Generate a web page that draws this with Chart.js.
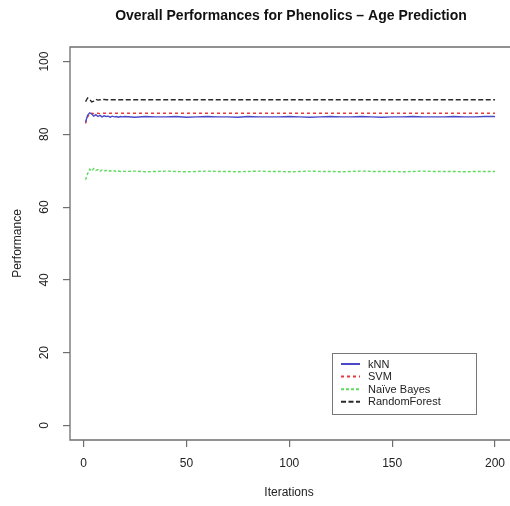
<!DOCTYPE html>
<html lang="en">
<head>
  <meta charset="UTF-8">
  <title>Overall Performances for Phenolics – Age Prediction</title>
  <script src="https://cdn.jsdelivr.net/npm/chart.js"></script>
  <style>
    html, body { margin: 0; padding: 0; background: #fff; }
    #wrap { width: 510px; height: 506px; }
  </style>
</head>
<body>
  <div id="wrap"><canvas id="perfChart" width="510" height="506"></canvas></div>

  <script>
    // values (every iteration up to 20, then every 5)
    const titleText = 'Overall Performances for Phenolics \u2013 Age Prediction';
    const iterations = [1, 2, 3, 4, 5, 6, 7, 8, 9, 10, 11, 12, 13, 14, 15, 16, 17, 18, 19, 20,
      25, 30, 35, 40, 45, 50, 55, 60, 65, 70, 75, 80, 85, 90, 95, 100, 105, 110, 115, 120,
      125, 130, 135, 140, 145, 150, 155, 160, 165, 170, 175, 180, 185, 190, 195, 200];
    const knn = [83.4, 85.2, 85.9, 85.6, 85.0, 85.4, 84.9, 85.2, 84.8, 85.1, 84.9, 85.0, 84.7, 85.0, 84.8, 84.9, 84.7, 84.9, 84.8, 84.9,
      84.7, 84.9, 84.8, 84.8, 84.9, 84.7, 84.8, 84.9, 84.8, 84.8, 84.7, 84.9, 84.8, 84.8, 84.8, 84.9, 84.8, 84.7, 84.8, 84.9,
      84.8, 84.8, 84.9, 84.8, 84.7, 84.8, 84.8, 84.9, 84.8, 84.8, 84.8, 84.9, 84.8, 84.8, 84.9, 84.9];
    const svm = [83.0, 84.8, 85.6, 85.8, 85.7, 85.8, 85.8, 85.7, 85.8, 85.8, 85.8, 85.8, 85.8, 85.8, 85.8, 85.8, 85.8, 85.8, 85.8, 85.8,
      85.8, 85.8, 85.8, 85.8, 85.8, 85.8, 85.8, 85.8, 85.8, 85.8, 85.8, 85.8, 85.8, 85.8, 85.8, 85.8, 85.8, 85.8, 85.8, 85.8,
      85.8, 85.8, 85.8, 85.8, 85.8, 85.8, 85.8, 85.8, 85.8, 85.8, 85.8, 85.8, 85.8, 85.8, 85.8, 85.8];
    const naiveBayes = [67.5, 69.2, 70.4, 69.9, 70.6, 70.1, 70.3, 69.8, 70.2, 69.9, 70.1, 69.8, 70.0, 69.8, 70.0, 69.7, 69.9, 69.8, 69.9, 69.8,
      69.9, 69.7, 69.8, 69.9, 69.8, 69.7, 69.8, 69.9, 69.8, 69.8, 69.7, 69.8, 69.9, 69.8, 69.8, 69.7, 69.8, 69.9, 69.8, 69.8,
      69.7, 69.8, 69.9, 69.8, 69.8, 69.8, 69.7, 69.8, 69.9, 69.8, 69.8, 69.8, 69.7, 69.8, 69.8, 69.8];
    const randomForest = [89.0, 90.0, 89.6, 88.9, 89.1, 89.6, 89.4, 89.5, 89.5, 89.6, 89.5, 89.5, 89.5, 89.5, 89.5, 89.5, 89.5, 89.5, 89.5, 89.5,
      89.5, 89.5, 89.5, 89.5, 89.5, 89.5, 89.5, 89.5, 89.5, 89.5, 89.5, 89.5, 89.5, 89.5, 89.5, 89.5, 89.5, 89.5, 89.5, 89.5,
      89.5, 89.5, 89.5, 89.5, 89.5, 89.5, 89.5, 89.5, 89.5, 89.5, 89.5, 89.5, 89.5, 89.5, 89.5, 89.5];
    const seriesNames = ['kNN', 'SVM', 'Na\u00efve Bayes', 'RandomForest'];
    const xTicks = [0, 50, 100, 150, 200];
    const yTicks = [0, 20, 40, 60, 80, 100];

    const FONT = '"Liberation Sans", Arial, Helvetica, sans-serif';
    const AXIS_GREY = '#6e6e6e';

    function pts(values) {
      return values.map((v, i) => ({ x: iterations[i], y: v }));
    }

    function line(label, values, color, dash) {
      return {
        label: label,
        data: pts(values),
        borderColor: color,
        borderWidth: 1.4,
        borderDash: dash,
        pointRadius: 0,
        tension: 0,
        fill: false
      };
    }

    // R-style box round the plot region (its right side falls off the picture), plus title and legend
    const rDecor = {
      id: 'rDecor',
      afterDraw(chart) {
        const { ctx, chartArea: a, width } = chart;
        ctx.save();
        ctx.strokeStyle = AXIS_GREY;
        ctx.lineWidth = 1.3;
        ctx.beginPath();
        ctx.moveTo(width, a.top);
        ctx.lineTo(a.left, a.top);
        ctx.lineTo(a.left, a.bottom);
        ctx.lineTo(width, a.bottom);
        ctx.stroke();

        ctx.fillStyle = '#111';
        ctx.font = 'bold 14px ' + FONT;
        ctx.textAlign = 'center';
        ctx.textBaseline = 'middle';
        ctx.fillText(titleText, 291, 16);

        // legend
        const bx = 332, by = 353, bw = 144, bh = 61;
        ctx.strokeStyle = '#777';
        ctx.lineWidth = 1;
        ctx.strokeRect(bx + 0.5, by + 0.5, bw, bh);
        ctx.font = '11px ' + FONT;
        ctx.textAlign = 'left';
        chart.data.datasets.forEach((ds, i) => {
          const y = by + 11 + i * 12.6;
          ctx.beginPath();
          ctx.setLineDash(ds.borderDash || []);
          ctx.strokeStyle = ds.borderColor;
          ctx.lineWidth = 2;
          ctx.moveTo(bx + 9, y);
          ctx.lineTo(bx + 28, y);
          ctx.stroke();
          ctx.setLineDash([]);
          ctx.fillStyle = '#222';
          ctx.fillText(ds.label, bx + 36, y + 0.5);
        });
        ctx.restore();
      }
    };

    const ctx = document.getElementById('perfChart').getContext('2d');
    new Chart(ctx, {
      type: 'line',
      data: {
        datasets: [
          line(seriesNames[0], knn, '#4a4ac8', []),
          line(seriesNames[1], svm, '#e83a3a', [3, 3]),
          line(seriesNames[2], naiveBayes, '#5fdc5f', [3, 2]),
          line(seriesNames[3], randomForest, '#2a2a2a', [5, 2.5])
        ]
      },
      options: {
        responsive: false,
        animation: false,
        layout: { padding: { top: 47, right: 2, bottom: 0, left: 0 } },
        plugins: {
          legend: { display: false },
          tooltip: { enabled: false }
        },
        scales: {
          x: {
            type: 'linear',
            min: -6.56,
            max: 206.3,
            afterBuildTicks: s => { s.ticks = xTicks.map(v => ({ value: v })); },
            afterFit: s => { s.height = 66; s.paddingLeft = 0; s.paddingRight = 0; },
            border: { display: false },
            grid: { display: true, drawOnChartArea: false, drawTicks: true, tickLength: 7, color: AXIS_GREY, lineWidth: 1.2 },
            ticks: { color: '#222', font: { family: FONT, size: 12 }, padding: 9, maxRotation: 0 },
            title: { display: true, text: 'Iterations', color: '#222', font: { family: FONT, size: 12 }, padding: { top: 0, bottom: 6 } }
          },
          y: {
            type: 'linear',
            min: -4,
            max: 104,
            afterBuildTicks: s => { s.ticks = yTicks.map(v => ({ value: v })); },
            afterFit: s => { s.width = 70; },
            border: { display: false },
            grid: { display: true, drawOnChartArea: false, drawTicks: true, tickLength: 7, color: AXIS_GREY, lineWidth: 1.2 },
            ticks: { color: '#222', font: { family: FONT, size: 12 }, padding: 8, minRotation: 90, maxRotation: 90, crossAlign: 'center' },
            title: { display: true, text: 'Performance', color: '#222', font: { family: FONT, size: 12 }, padding: { top: 10, bottom: 0 } }
          }
        }
      },
      plugins: [rDecor]
    });
  </script>
</body>
</html>
